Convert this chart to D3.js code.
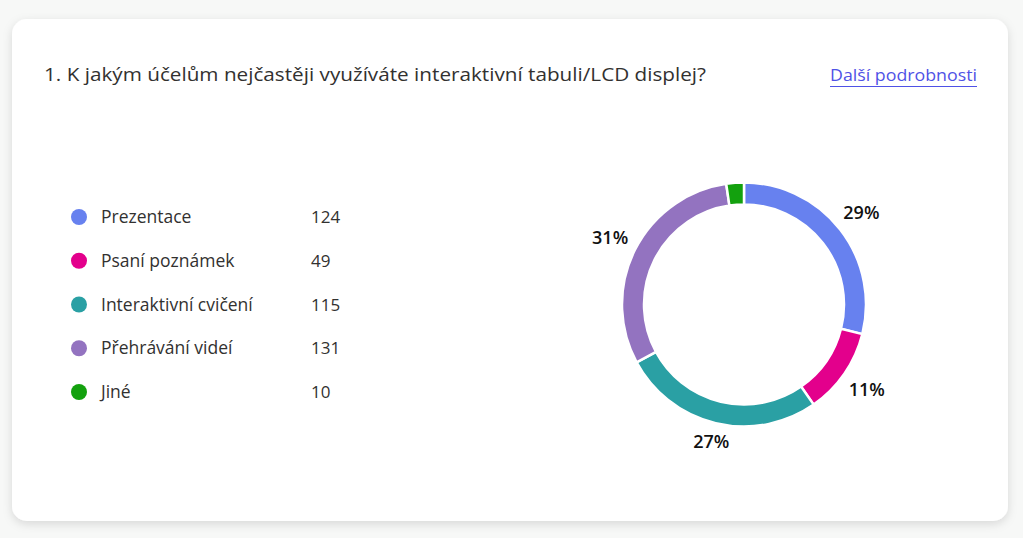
<!DOCTYPE html>
<html><head><meta charset="utf-8">
<script src="https://cdn.jsdelivr.net/npm/d3@7"></script>
<style>
html,body{margin:0;padding:0;background:#f7f8f7;}
svg{display:block;}
</style></head>
<body>
<svg id="chart" width="1023" height="538"></svg>
<script>
const title = "1. K jakým účelům nejčastěji využíváte interaktivní tabuli/LCD displej?";
const linkText = "Další podrobnosti";
const categories = ["Prezentace", "Psaní poznámek", "Interaktivní cvičení", "Přehrávání videí", "Jiné"];
const values = [124, 49, 115, 131, 10];
const colors = ["#6781ef", "#e3008c", "#2aa0a4", "#9373c0", "#13a10e"];
const percentLabels = ["29%", "11%", "27%", "31%", ""];

const svg = d3.select("#chart");
const defs = svg.append("defs");
const f = defs.append("filter").attr("id","sh").attr("x","-10%").attr("y","-10%").attr("width","120%").attr("height","130%");
f.append("feDropShadow").attr("dx",0).attr("dy",3).attr("stdDeviation",5).attr("flood-color","#000").attr("flood-opacity",0.13);

svg.append("rect").attr("x",12).attr("y",19).attr("width",996).attr("height",502)
  .attr("rx",15).attr("fill","#fff").attr("filter","url(#sh)");

const font = "'Open Sans', 'Noto Sans', sans-serif";
svg.append("text").attr("x",44).attr("y",81).text(title)
  .attr("font-family",font).attr("font-size",19).attr("fill","#323130")
  .attr("textLength",662).attr("lengthAdjust","spacingAndGlyphs");
svg.append("text").attr("x",977).attr("y",81).attr("text-anchor","end").text(linkText)
  .attr("font-family",font).attr("font-size",16.5).attr("fill","#4f52e6")
  .attr("textLength",147).attr("lengthAdjust","spacingAndGlyphs");
svg.append("line").attr("x1",830).attr("x2",977).attr("y1",86.5).attr("y2",86.5)
  .attr("stroke","#4f52e6").attr("stroke-width",1);

// legend
const ly = d3.scalePoint().domain(categories).range([217, 392]);
const lg = svg.append("g").selectAll("g").data(categories).join("g")
  .attr("transform", d => `translate(0,${ly(d)})`);
lg.append("circle").attr("cx",79).attr("cy",0).attr("r",8).attr("fill",(d,i)=>colors[i]);
lg.append("text").attr("x",101).attr("y",6).text(d=>d)
  .attr("font-family",font).attr("font-size",17.5).attr("fill","#323130");
lg.append("text").attr("x",311).attr("y",6).text((d,i)=>values[i])
  .attr("font-family",font).attr("font-size",17).attr("fill","#323130");

// donut
const cx = 744, cy = 304.5, rOuter = 122, rInner = 100;
const pie = d3.pie().sort(null).value(d=>d)(values);
const arc = d3.arc().innerRadius(rInner).outerRadius(rOuter);
const g = svg.append("g").attr("transform",`translate(${cx},${cy})`);
g.selectAll("path").data(pie).join("path").attr("d",arc)
  .attr("fill",(d,i)=>colors[i]).attr("stroke","#fff").attr("stroke-width",2.5);
const lw = 36, lh = 12, r0 = 131;
g.selectAll("text").data(pie).join("text")
  .attr("transform",d=>{
    const a = (d.startAngle + d.endAngle)/2;
    const s = Math.sin(a), c = Math.cos(a);
    const r = r0 + Math.abs(s)*lw/2 + Math.abs(c)*lh/2;
    return `translate(${r*s},${-r*c})`;
  })
  .attr("text-anchor","middle").attr("dy","0.36em")
  .text((d,i)=>percentLabels[i])
  .attr("font-family",font).attr("font-size",18).attr("font-weight",600).attr("fill","#111");
</script>
</body></html>
